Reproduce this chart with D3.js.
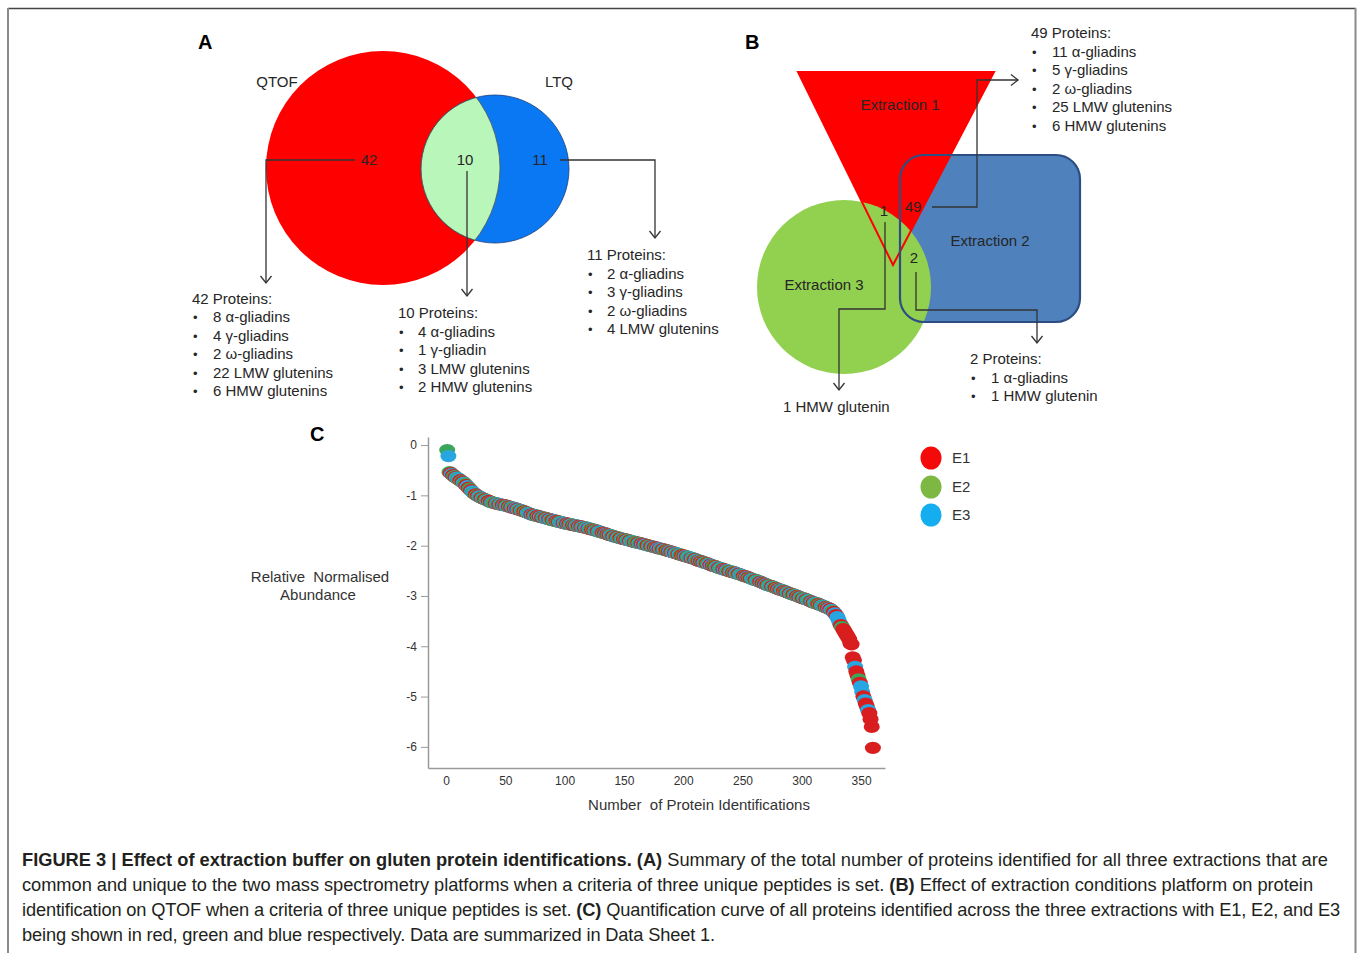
<!DOCTYPE html>
<html><head><meta charset="utf-8">
<script src="https://cdn.jsdelivr.net/npm/d3@7"></script>
<style>
body{margin:0;background:#fff;}
text{font-family:"Liberation Sans",Arial,Helvetica,sans-serif;}
</style>
</head><body>
<svg id="fig" width="1358" height="953"></svg>
<script>
// ---------------- DATA ----------------
// Panel A (Venn: QTOF vs LTQ)
const vennASets = ["QTOF", "LTQ"];
const vennACounts = [42, 10, 11]; // QTOF only, both, LTQ only
const listAQtof = ["8 α-gliadins", "4 γ-gliadins", "2 ω-gliadins", "22 LMW glutenins", "6 HMW glutenins"];
const listABoth = ["4 α-gliadins", "1 γ-gliadin", "3 LMW glutenins", "2 HMW glutenins"];
const listALtq = ["2 α-gliadins", "3 γ-gliadins", "2 ω-gliadins", "4 LMW glutenins"];
// Panel B (Venn: three extractions)
const vennBSets = ["Extraction 1", "Extraction 2", "Extraction 3"];
const vennBCounts = [49, 1, 2]; // E1∩E2, E1∩E3, E2∩E3
const listB49 = ["11 α-gliadins", "5 γ-gliadins", "2 ω-gliadins", "25 LMW glutenins", "6 HMW glutenins"];
const listB2 = ["1 α-gliadins", "1 HMW glutenin"];
const listB1 = ["1 HMW glutenin"];
// Panel C (quantification curve)
const extractions = ["E1", "E2", "E3"];
const abundance = [
 -0.10,-0.22,-0.54,-0.56,-0.58,-0.60,-0.62,-0.64,-0.65,-0.67,-0.68,-0.70,-0.72,-0.73,-0.75,-0.77,-0.80,-0.82,-0.85,-0.87,
 -0.90,-0.92,-0.95,-0.96,-0.98,-1.00,-1.01,-1.02,-1.04,-1.05,-1.06,-1.07,-1.08,-1.09,-1.10,-1.11,-1.13,-1.13,-1.14,-1.15,
 -1.15,-1.16,-1.16,-1.17,-1.18,-1.18,-1.19,-1.19,-1.20,-1.20,-1.21,-1.22,-1.22,-1.23,-1.24,-1.24,-1.25,-1.26,-1.26,-1.27,
 -1.28,-1.29,-1.30,-1.30,-1.31,-1.32,-1.33,-1.34,-1.35,-1.36,-1.37,-1.38,-1.39,-1.39,-1.40,-1.40,-1.41,-1.42,-1.42,-1.43,
 -1.44,-1.44,-1.45,-1.45,-1.46,-1.47,-1.47,-1.48,-1.49,-1.49,-1.50,-1.50,-1.51,-1.52,-1.52,-1.53,-1.53,-1.54,-1.55,-1.55,
 -1.56,-1.56,-1.57,-1.57,-1.58,-1.58,-1.59,-1.59,-1.60,-1.60,-1.61,-1.61,-1.62,-1.62,-1.63,-1.63,-1.64,-1.64,-1.65,-1.66,
 -1.66,-1.67,-1.68,-1.68,-1.69,-1.70,-1.70,-1.71,-1.72,-1.73,-1.73,-1.74,-1.75,-1.75,-1.76,-1.77,-1.78,-1.79,-1.79,-1.80,
 -1.81,-1.82,-1.82,-1.83,-1.84,-1.84,-1.85,-1.86,-1.86,-1.87,-1.87,-1.88,-1.89,-1.89,-1.90,-1.91,-1.91,-1.92,-1.93,-1.93,
 -1.94,-1.94,-1.95,-1.95,-1.96,-1.97,-1.97,-1.98,-1.99,-1.99,-2.00,-2.01,-2.01,-2.02,-2.02,-2.03,-2.04,-2.04,-2.05,-2.06,
 -2.06,-2.07,-2.07,-2.08,-2.09,-2.09,-2.10,-2.11,-2.11,-2.12,-2.13,-2.14,-2.14,-2.15,-2.16,-2.17,-2.17,-2.18,-2.19,-2.20,
 -2.20,-2.21,-2.22,-2.22,-2.23,-2.24,-2.25,-2.25,-2.26,-2.27,-2.28,-2.29,-2.30,-2.30,-2.31,-2.32,-2.33,-2.34,-2.34,-2.35,
 -2.36,-2.37,-2.38,-2.39,-2.40,-2.40,-2.41,-2.42,-2.43,-2.44,-2.45,-2.45,-2.46,-2.47,-2.48,-2.48,-2.49,-2.50,-2.51,-2.51,
 -2.52,-2.53,-2.53,-2.54,-2.55,-2.56,-2.56,-2.57,-2.58,-2.59,-2.60,-2.61,-2.61,-2.62,-2.63,-2.64,-2.65,-2.66,-2.67,-2.68,
 -2.68,-2.69,-2.70,-2.71,-2.72,-2.73,-2.74,-2.75,-2.76,-2.77,-2.78,-2.79,-2.80,-2.80,-2.81,-2.82,-2.83,-2.84,-2.85,-2.86,
 -2.87,-2.88,-2.88,-2.89,-2.90,-2.91,-2.92,-2.93,-2.94,-2.95,-2.96,-2.97,-2.97,-2.98,-2.99,-3.00,-3.01,-3.02,-3.03,-3.04,
 -3.05,-3.05,-3.06,-3.07,-3.08,-3.09,-3.10,-3.11,-3.12,-3.13,-3.14,-3.14,-3.15,-3.16,-3.17,-3.18,-3.19,-3.20,-3.21,-3.22,
 -3.23,-3.24,-3.25,-3.26,-3.28,-3.30,-3.32,-3.35,-3.38,-3.42,-3.47,-3.54,-3.58,-3.62,-3.66,-3.70,-3.74,-3.78,-3.82,-3.86,
 -3.94,-3.96,-4.22,-4.28,-4.41,-4.50,-4.58,-4.66,-4.73,-4.80,-4.91,-5.00,-5.07,-5.14,-5.20,-5.27,-5.33,-5.45,-5.60,-6.02
];
// extraction of each ranked protein (1 = E1, 2 = E2, 3 = E3)
const extractionOf = (
 "23213121323121321312" + "13231213213212312132" + "21321321312312132131" +
 "32132121323131231213" + "12312313212312132313" + "21312312132131231231" +
 "32121321323121312132" + "13213212312132132312" + "21321313212312312131" +
 "32132121312313213212" + "13123213213213121321" + "23131212312321313212" +
 "31213213231213121323" + "12321312131232132121" + "31231213213212312132" +
 "12312321312321213231" + "21313213133312111111" + "11113112133131131111").split("");
const xTicks = [0, 50, 100, 150, 200, 250, 300, 350];
const yTicks = [0, -1, -2, -3, -4, -5, -6];

// ---------------- STYLE ----------------
const INK = "#262626";
const pointColour = {"1": "#d81e1e", "2": "#3ba65a", "3": "#27a6e2"};
const legendColour = ["#f50a0a", "#7db843", "#14aef0"];

const svg = d3.select("#fig");
svg.append("rect").attr("width", 1358).attr("height", 953).attr("fill", "#fff");
const defs = svg.append("defs");
// frame
svg.append("line").attr("x1", 8).attr("x2", 1356).attr("y1", 8.5).attr("y2", 8.5).attr("stroke", "#444").attr("stroke-width", 1.5);
svg.append("line").attr("x1", 8).attr("x2", 8).attr("y1", 8).attr("y2", 953).attr("stroke", "#8a8a8a").attr("stroke-width", 2);
svg.append("line").attr("x1", 1355.5).attr("x2", 1355.5).attr("y1", 8).attr("y2", 953).attr("stroke", "#8a8a8a").attr("stroke-width", 2);

function txt(g, x, y, s, opts = {}) {
  return g.append("text").attr("x", x).attr("y", y).text(s)
    .attr("font-size", opts.size || 15)
    .attr("font-weight", opts.bold ? "bold" : null)
    .attr("text-anchor", opts.anchor || "start")
    .attr("fill", opts.fill || INK);
}
function connector(g, d) {
  g.append("path").attr("d", d).attr("fill", "none").attr("stroke", "#333").attr("stroke-width", 1.3);
}
function arrow(g, x, y, dir) {
  const s = 7, w = 5.5;
  const d = dir === "down"
    ? `M${x - w},${y - s}L${x},${y}L${x + w},${y - s}`
    : `M${x - s},${y - w}L${x},${y}L${x - s},${y + w}`;
  g.append("path").attr("d", d).attr("fill", "none").attr("stroke", "#333").attr("stroke-width", 1.3);
}
function bulletList(g, x, y, header, items, textX, step) {
  txt(g, x, y, header);
  items.forEach((s, i) => {
    txt(g, x + 1, y + step * (i + 1), "•", {size: 13});
    txt(g, textX, y + step * (i + 1), s);
  });
}

// ---------------- PANEL A ----------------
const gA = svg.append("g");
txt(gA, 198, 49, "A", {size: 20, bold: true, fill: "#000"});
const cRed = {x: 383, y: 168, r: 117}, cBlue = {x: 495, y: 169, r: 74};
defs.append("clipPath").attr("id", "clipRed")
  .append("circle").attr("cx", cRed.x).attr("cy", cRed.y).attr("r", cRed.r);
defs.append("clipPath").attr("id", "clipBlue")
  .append("circle").attr("cx", cBlue.x).attr("cy", cBlue.y).attr("r", cBlue.r);
gA.append("circle").attr("cx", cRed.x).attr("cy", cRed.y).attr("r", cRed.r).attr("fill", "#fe0000");
gA.append("circle").attr("cx", cBlue.x).attr("cy", cBlue.y).attr("r", cBlue.r).attr("fill", "#0a78f2")
  .attr("stroke", "#1b3e78").attr("stroke-width", 0.8);
gA.append("circle").attr("cx", cBlue.x).attr("cy", cBlue.y).attr("r", cBlue.r).attr("fill", "#b9f6b9")
  .attr("clip-path", "url(#clipRed)").attr("stroke", "#555").attr("stroke-width", 1);
gA.append("circle").attr("cx", cRed.x).attr("cy", cRed.y).attr("r", cRed.r).attr("fill", "none")
  .attr("stroke", "#555").attr("stroke-width", 0.8).attr("clip-path", "url(#clipBlue)");
txt(gA, 277, 87, vennASets[0], {anchor: "middle"});
txt(gA, 559, 87, vennASets[1], {anchor: "middle"});
txt(gA, 369, 165, vennACounts[0], {anchor: "middle"});
txt(gA, 465, 165, vennACounts[1], {anchor: "middle"});
txt(gA, 540, 165, vennACounts[2], {anchor: "middle"});
connector(gA, "M355,160H266V283"); arrow(gA, 266, 283, "down");
connector(gA, "M467,171V296"); arrow(gA, 467, 296, "down");
connector(gA, "M560,160H655V238"); arrow(gA, 655, 238, "down");
bulletList(gA, 192, 304, `${vennACounts[0]} Proteins:`, listAQtof, 213, 18.4);
bulletList(gA, 398, 318, `${vennACounts[1]} Proteins:`, listABoth, 418, 18.6);
bulletList(gA, 587, 260, `${vennACounts[2]} Proteins:`, listALtq, 607, 18.6);

// ---------------- PANEL B ----------------
const gB = svg.append("g");
txt(gB, 745, 49, "B", {size: 20, bold: true, fill: "#000"});
const rectB = {x: 900, y: 155, w: 180, h: 167, rx: 24};
const triB = [[798, 72], [994, 72], [893, 265]];
const circB = {x: 844, y: 287, r: 87};
gB.append("rect").attr("x", rectB.x).attr("y", rectB.y).attr("width", rectB.w).attr("height", rectB.h)
  .attr("rx", rectB.rx).attr("fill", "#4f81bd");
gB.append("path").attr("d", "M" + triB.join("L") + "Z").attr("fill", "#ff0000");
gB.append("circle").attr("cx", circB.x).attr("cy", circB.y).attr("r", circB.r).attr("fill", "#92d050");
gB.append("path").attr("d", "M" + triB.join("L") + "Z").attr("fill", "none").attr("stroke", "#ff0000").attr("stroke-width", 2);
gB.append("rect").attr("x", rectB.x).attr("y", rectB.y).attr("width", rectB.w).attr("height", rectB.h)
  .attr("rx", rectB.rx).attr("fill", "none").attr("stroke", "#2c4e82").attr("stroke-width", 2.2);
txt(gB, 900, 110, vennBSets[0], {anchor: "middle"});
txt(gB, 990, 246, vennBSets[1], {anchor: "middle"});
txt(gB, 824, 290, vennBSets[2], {anchor: "middle"});
txt(gB, 913, 212, vennBCounts[0], {anchor: "middle"});
txt(gB, 884, 216, vennBCounts[1], {anchor: "middle"});
txt(gB, 914, 263, vennBCounts[2], {anchor: "middle"});
connector(gB, "M932,207H977V80H1018"); arrow(gB, 1018, 80, "right");
connector(gB, "M885,222V309H839V390"); arrow(gB, 839, 390, "down");
connector(gB, "M916,272V310H1037V343"); arrow(gB, 1037, 343, "down");
bulletList(gB, 1031, 38, `${vennBCounts[0]} Proteins:`, listB49, 1052, 18.5);
bulletList(gB, 970, 364, `${vennBCounts[2]} Proteins:`, listB2, 991, 18.5);
txt(gB, 783, 412, listB1[0]);

// ---------------- PANEL C ----------------
const gC = svg.append("g");
txt(gC, 310, 441, "C", {size: 20, bold: true, fill: "#000"});
const x = d3.scaleLinear().domain([-15.2, 370.2]).range([428, 885]);
const y = d3.scaleLinear().domain([0.16, -6.42]).range([437, 768]);

const yAxis = gC.append("g").attr("transform", "translate(428,0)")
  .call(d3.axisLeft(y).tickValues(yTicks).tickSize(7).tickSizeOuter(0).tickPadding(4).tickFormat(d3.format("d")));
const xAxis = gC.append("g").attr("transform", "translate(0,768)")
  .call(d3.axisBottom(x).tickValues(xTicks).tickSize(0).tickSizeOuter(0).tickPadding(8));
[yAxis, xAxis].forEach(a => {
  a.select(".domain").attr("stroke", "#9a9a9a").attr("stroke-width", 1.5);
  a.selectAll(".tick line").attr("stroke", "#9a9a9a");
  a.selectAll(".tick text").attr("font-size", 12).attr("fill", "#333")
    .attr("font-family", '"Liberation Sans",Arial,sans-serif');
});
yAxis.selectAll(".tick text").text(d => String(d));

const pts = abundance.map((v, i) => ({rank: i + 1, v, e: extractionOf[i] || "1"}));
gC.append("g").selectAll("ellipse").data(pts).join("ellipse")
  .attr("cx", d => x(d.rank)).attr("cy", d => y(d.v))
  .attr("rx", 8).attr("ry", 6.2)
  .attr("fill", d => pointColour[d.e]);

txt(gC, 320, 582, "Relative  Normalised", {anchor: "middle", fill: "#333"}).style("white-space", "pre");
txt(gC, 318, 600, "Abundance", {anchor: "middle", fill: "#333"});
txt(gC, 699, 810, "Number  of Protein Identifications", {anchor: "middle", fill: "#333"}).style("white-space", "pre");

extractions.forEach((e, i) => {
  const cy = [458, 487, 515][i];
  gC.append("ellipse").attr("cx", 931).attr("cy", cy).attr("rx", 10.5).attr("ry", 11.5).attr("fill", legendColour[i]);
  txt(gC, 952, cy + 5, e, {fill: "#333"});
});

// ---------------- CAPTION ----------------
const capLines = [
  [["FIGURE 3 | Effect of extraction buffer on gluten protein identifications. (A)", true], [" Summary of the total number of proteins identified for all three extractions that are", false]],
  [["common and unique to the two mass spectrometry platforms when a criteria of three unique peptides is set. ", false], ["(B)", true], [" Effect of extraction conditions platform on protein", false]],
  [["identification on QTOF when a criteria of three unique peptides is set. ", false], ["(C)", true], [" Quantification curve of all proteins identified across the three extractions with E1, E2, and E3", false]],
  [["being shown in red, green and blue respectively. Data are summarized in Data Sheet 1.", false]]
];
const capWidths = [1306, 1291, 1318, 693];
const capG = svg.append("g");
const capTexts = capLines.map((parts, i) => {
  const t = capG.append("text").attr("x", 22).attr("y", 866 + 25 * i).attr("font-size", 17).attr("fill", "#231f20")
    .style("white-space", "pre");
  parts.forEach(([s, b]) => t.append("tspan").text(s).attr("font-weight", b ? "bold" : null));
  return t;
});
const fs = 17 * 1306 / capTexts[0].node().getComputedTextLength();
capTexts.forEach((t, i) => {
  t.attr("font-size", fs);
  const nChars = capLines[i].reduce((a, p) => a + p[0].length, 0);
  const w = t.node().getComputedTextLength();
  t.attr("letter-spacing", (capWidths[i] - w) / nChars);
});
</script>
</body></html>
